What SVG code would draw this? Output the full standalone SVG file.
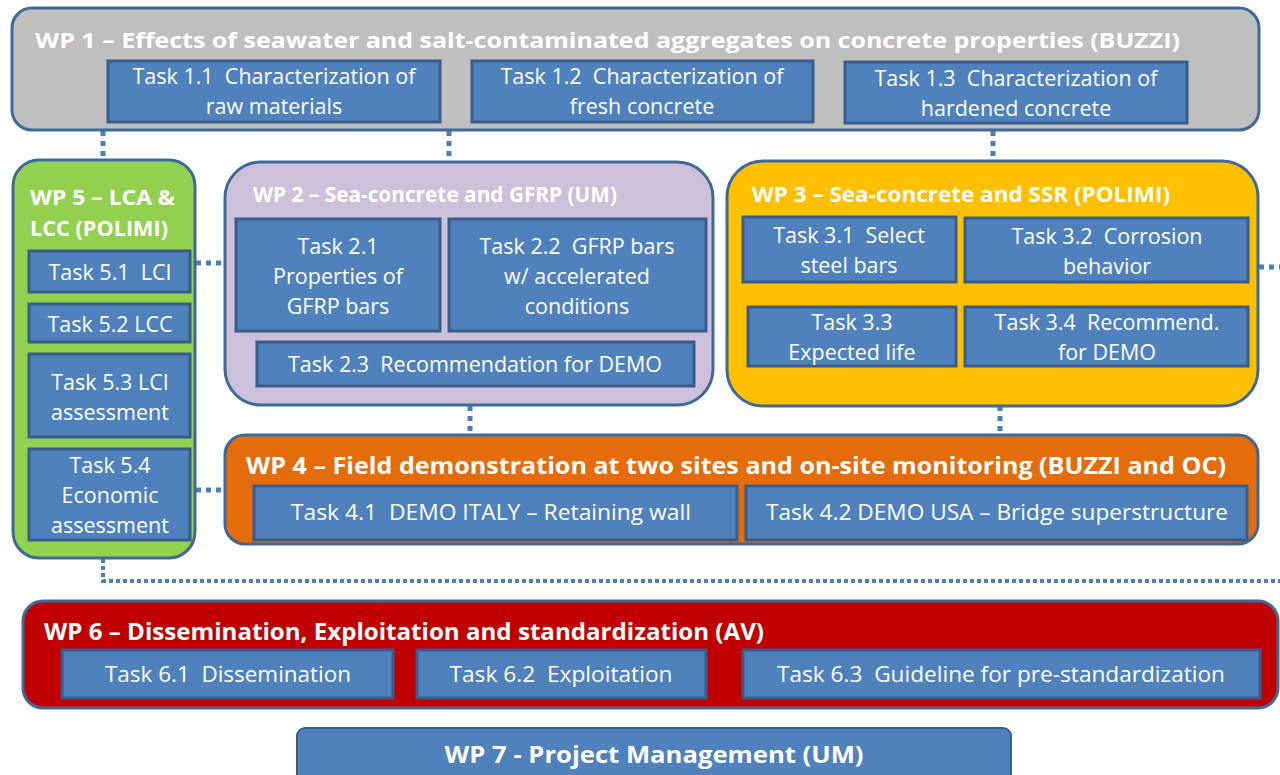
<svg xmlns="http://www.w3.org/2000/svg" width="1280" height="775" viewBox="0 0 1280 775" xml:space="preserve">
<style>
.wp{stroke:#3f6a98;stroke-width:3}
.task{fill:#4f81bd;stroke:#385d8a;stroke-width:3}
.t{font-family:"Open Sans","Noto Sans","Liberation Sans",sans-serif;font-size:21.5px;fill:#fff;text-anchor:middle;white-space:pre}
.h{font-family:"Open Sans","Noto Sans","Liberation Sans",sans-serif;font-size:21px;font-weight:bold;fill:#fff}
.c{fill:none;stroke:#4a7ebb;stroke-width:5;stroke-dasharray:5 5}
.c2{fill:none;stroke:#4a7ebb;stroke-width:4;stroke-dasharray:4 3}
</style>
<rect width="1280" height="775" fill="#fff"/>
<g id="connectors">
<path class="c" d="M103 131V160"/>
<path class="c" d="M449 131V160"/>
<path class="c" d="M993 131V160"/>
<path class="c" d="M196 263H225"/>
<path class="c" d="M196 490H225"/>
<path class="c" d="M470 406V435"/>
<path class="c" d="M1000 406V435"/>
<path class="c" d="M1259 267H1280"/>
<path class="c2" d="M103 559V581H1280"/>
</g>
<g id="wp1">
<rect class="wp" x="12" y="8" width="1247" height="122" rx="20" fill="#bfbfbf"/>
<text class="h" x="35" y="48" textLength="1145" lengthAdjust="spacingAndGlyphs">WP 1 – Effects of seawater and salt-contaminated aggregates on concrete properties (BUZZI)</text>
</g>
<g id="task11"><rect class="task" x="108" y="61" width="332" height="61"/><text class="t" x="274" y="84">Task 1.1  Characterization of</text><text class="t" x="274" y="114">raw materials</text></g>
<g id="task12"><rect class="task" x="472" y="61" width="341" height="61"/><text class="t" x="642" y="84">Task 1.2  Characterization of</text><text class="t" x="642" y="114">fresh concrete</text></g>
<g id="task13"><rect class="task" x="845" y="62" width="342" height="61"/><text class="t" x="1016" y="86">Task 1.3  Characterization of</text><text class="t" x="1016" y="116">hardened concrete</text></g>
<g id="wp5">
<rect class="wp" x="13" y="160" width="182" height="398" rx="26" fill="#92d050"/>
<text class="h" x="30" y="205" textLength="145" lengthAdjust="spacingAndGlyphs">WP 5 – LCA &amp;</text>
<text class="h" x="30" y="236" textLength="138" lengthAdjust="spacingAndGlyphs">LCC (POLIMI)</text>
</g>
<g id="task51"><rect class="task" x="29" y="251" width="161" height="41"/><text class="t" x="110" y="280">Task 5.1  LCI</text></g>
<g id="task52"><rect class="task" x="29" y="304" width="161" height="38"/><text class="t" x="110" y="332">Task 5.2 LCC</text></g>
<g id="task53"><rect class="task" x="29" y="354" width="161" height="83"/><text class="t" x="110" y="390">Task 5.3 LCI</text><text class="t" x="110" y="420">assessment</text></g>
<g id="task54"><rect class="task" x="29" y="449" width="161" height="91"/><text class="t" x="110" y="473">Task 5.4</text><text class="t" x="110" y="503">Economic</text><text class="t" x="110" y="533">assessment</text></g>
<g id="wp2">
<rect class="wp" x="225" y="162" width="488" height="243" rx="36" fill="#ccc0da"/>
<text class="h" x="253" y="202" textLength="364" lengthAdjust="spacingAndGlyphs">WP 2 – Sea-concrete and GFRP (UM)</text>
</g>
<g id="task21"><rect class="task" x="236" y="219" width="204" height="112"/><text class="t" x="338" y="254">Task 2.1</text><text class="t" x="338" y="284">Properties of</text><text class="t" x="338" y="314">GFRP bars</text></g>
<g id="task22"><rect class="task" x="449" y="219" width="257" height="112"/><text class="t" x="577" y="254">Task 2.2  GFRP bars</text><text class="t" x="577" y="284">w/ accelerated</text><text class="t" x="577" y="314">conditions</text></g>
<g id="task23"><rect class="task" x="257" y="342" width="437" height="44"/><text class="t" x="475" y="372">Task 2.3  Recommendation for DEMO</text></g>
<g id="wp3">
<rect class="wp" x="727" y="161" width="531" height="245" rx="36" fill="#ffc000"/>
<text class="h" x="752" y="202" textLength="418" lengthAdjust="spacingAndGlyphs">WP 3 – Sea-concrete and SSR (POLIMI)</text>
</g>
<g id="task31"><rect class="task" x="743" y="217" width="213" height="65"/><text class="t" x="849" y="243">Task 3.1  Select</text><text class="t" x="849" y="273">steel bars</text></g>
<g id="task32"><rect class="task" x="965" y="218" width="283" height="64"/><text class="t" x="1107" y="244">Task 3.2  Corrosion</text><text class="t" x="1107" y="274">behavior</text></g>
<g id="task33"><rect class="task" x="748" y="307" width="208" height="59"/><text class="t" x="852" y="330">Task 3.3</text><text class="t" x="852" y="360">Expected life</text></g>
<g id="task34"><rect class="task" x="965" y="307" width="283" height="59"/><text class="t" x="1107" y="330">Task 3.4  Recommend.</text><text class="t" x="1107" y="360">for DEMO</text></g>
<g id="wp4">
<rect class="wp" x="225" y="435" width="1033" height="109" rx="20" fill="#e46c0a"/>
<text class="h" x="246" y="474" textLength="980" lengthAdjust="spacingAndGlyphs" style="font-size:23px">WP 4 – Field demonstration at two sites and on-site monitoring (BUZZI and OC)</text>
</g>
<g id="task41"><rect class="task" x="254" y="486" width="483" height="54"/><text class="t" x="491" y="520" textLength="400" lengthAdjust="spacingAndGlyphs">Task 4.1  DEMO ITALY – Retaining wall</text></g>
<g id="task42"><rect class="task" x="746" y="486" width="501" height="54"/><text class="t" x="997" y="520" textLength="462" lengthAdjust="spacingAndGlyphs">Task 4.2 DEMO USA – Bridge superstructure</text></g>
<g id="wp6">
<rect class="wp" x="23" y="601" width="1255" height="107" rx="20" fill="#c00000"/>
<text class="h" x="44" y="640" textLength="720" lengthAdjust="spacingAndGlyphs" style="font-size:23px">WP 6 – Dissemination, Exploitation and standardization (AV)</text>
</g>
<g id="task61"><rect class="task" x="62" y="650" width="331" height="48"/><text class="t" x="228" y="682" textLength="246" lengthAdjust="spacingAndGlyphs">Task 6.1  Dissemination</text></g>
<g id="task62"><rect class="task" x="417" y="650" width="289" height="48"/><text class="t" x="561" y="682" textLength="223" lengthAdjust="spacingAndGlyphs">Task 6.2  Exploitation</text></g>
<g id="task63"><rect class="task" x="743" y="650" width="517" height="48"/><text class="t" x="1001" y="682" textLength="448" lengthAdjust="spacingAndGlyphs">Task 6.3  Guideline for pre-standardization</text></g>
<g id="wp7">
<rect x="297" y="728" width="714" height="60" rx="8" fill="#4f81bd" stroke="#385d8a" stroke-width="2"/>
<text class="h" x="654" y="763" text-anchor="middle" textLength="419" lengthAdjust="spacingAndGlyphs" style="font-size:23px">WP 7 - Project Management (UM)</text>
</g>
</svg>
